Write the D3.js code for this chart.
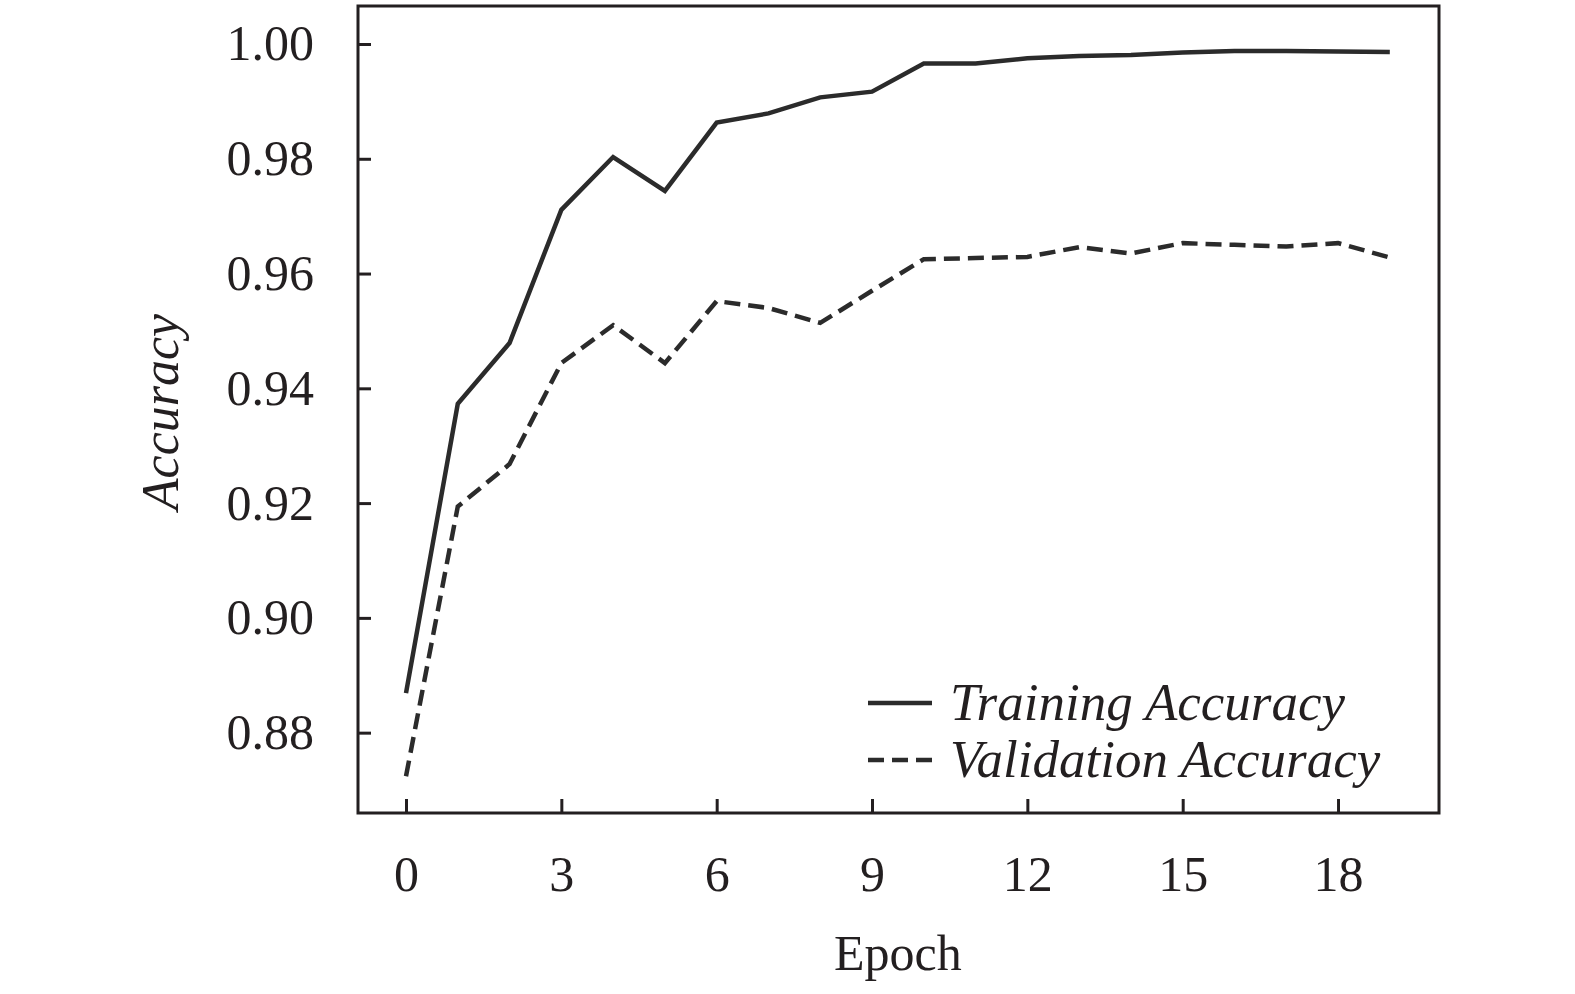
<!DOCTYPE html>
<html>
<head>
<meta charset="utf-8">
<script src="https://cdn.jsdelivr.net/npm/d3@7"></script>
<style>
  body { margin: 0; background: #fff; }
  svg text { font-family: "Liberation Serif", "Times New Roman", serif; fill: #231f20; }
</style>
</head>
<body>
<div class="lineChart"></div>
<script>
// values
let epochs = d3.range(0, 20);
let trainingAcc = [0.8869, 0.9373, 0.9479, 0.9711, 0.9803, 0.9744, 0.9863, 0.9879, 0.9907, 0.9917,
                   0.9966, 0.9966, 0.9975, 0.9979, 0.9981, 0.9985, 0.9988, 0.9988, 0.9987, 0.9986];
let validationAcc = [0.8724, 0.9194, 0.9268, 0.9444, 0.9510, 0.9444, 0.9552, 0.9540, 0.9514, 0.9570,
                     0.9625, 0.9627, 0.9629, 0.9646, 0.9635, 0.9653, 0.9650, 0.9647, 0.9653, 0.9628];
let xTicks = [0, 3, 6, 9, 12, 15, 18];
let yTicks = [0.88, 0.90, 0.92, 0.94, 0.96, 0.98, 1.00];
let seriesNames = ['Training Accuracy', 'Validation Accuracy'];

function drawLineChart() {
    let margin = {top: 6, right: 136, bottom: 181, left: 358};
    let container = d3.select('.lineChart')
        .append('svg')
        .attr('width', 1575)
        .attr('height', 994);
    let width = +container.attr('width') - margin.left - margin.right;
    let height = +container.attr('height') - margin.top - margin.bottom;
    let ink = '#231f20';

    let x = d3.scaleLinear().domain([-0.927, 19.95]).range([0, width]);
    let y = d3.scaleLinear().domain([0.8660, 1.00662]).range([height, 0]);

    let g = container.append('g')
        .attr('transform', 'translate(' + margin.left + ',' + margin.top + ')');

    g.append('g')
        .attr('class', 'axis axis--x')
        .attr('transform', 'translate(0,' + height + ')')
        .call(d3.axisBottom(x).tickValues(xTicks).tickSize(-14).tickPadding(42.5).tickFormat(d3.format('d')))
        .call(a => a.select('.domain').remove())
        .call(a => a.selectAll('line').attr('stroke', ink).attr('stroke-width', 3))
        .call(a => a.selectAll('text').attr('fill', ink).style('font-size', '50px'));

    g.append('g')
        .attr('class', 'axis axis--y')
        .call(d3.axisLeft(y).tickValues(yTicks).tickSize(-13).tickPadding(44).tickFormat(d3.format('.2f')))
        .call(a => a.select('.domain').remove())
        .call(a => a.selectAll('line').attr('stroke', ink).attr('stroke-width', 3))
        .call(a => a.selectAll('text').attr('fill', ink).style('font-size', '50px'));

    g.append('rect')
        .attr('width', width)
        .attr('height', height)
        .attr('fill', 'none')
        .attr('stroke', ink)
        .attr('stroke-width', 3);

    let line = d3.line()
        .x(d => x(d[0]))
        .y(d => y(d[1]));

    let lineColor = '#2b2b2b';
    let dashes = [null, '16,8'];
    [trainingAcc, validationAcc].forEach((vals, i) => {
        g.append('path')
            .datum(epochs.map((e, k) => [e, vals[k]]))
            .attr('fill', 'none')
            .attr('stroke', lineColor)
            .attr('stroke-width', 4.5)
            .attr('stroke-linejoin', 'miter')
            .attr('stroke-dasharray', dashes[i])
            .attr('d', line);
    });

    // legend
    let legend = g.append('g')
        .attr('transform', 'translate(' + (868 - margin.left) + ',' + (703 - margin.top) + ')');
    seriesNames.forEach((name, i) => {
        let row = legend.append('g').attr('transform', 'translate(0,' + (i * 57) + ')');
        row.append('line')
            .attr('x1', 0).attr('x2', 64)
            .attr('stroke', lineColor)
            .attr('stroke-width', 4.5)
            .attr('stroke-dasharray', i === 1 ? '16,8' : null);
        row.append('text')
            .attr('x', 82)
            .attr('dy', '0.32em')
            .style('font-size', '53px')
            .style('font-style', 'italic')
            .text(name);
    });

    // axis titles
    container.append('text')
        .attr('x', margin.left + x(9.5))
        .attr('y', 970)
        .style('text-anchor', 'middle')
        .style('font-size', '50px')
        .text('Epoch');

    container.append('text')
        .attr('transform', 'translate(178,412) rotate(-90)')
        .style('text-anchor', 'middle')
        .style('font-size', '52px')
        .style('font-style', 'italic')
        .text('Accuracy');
}

drawLineChart();
</script>
</body>
</html>
